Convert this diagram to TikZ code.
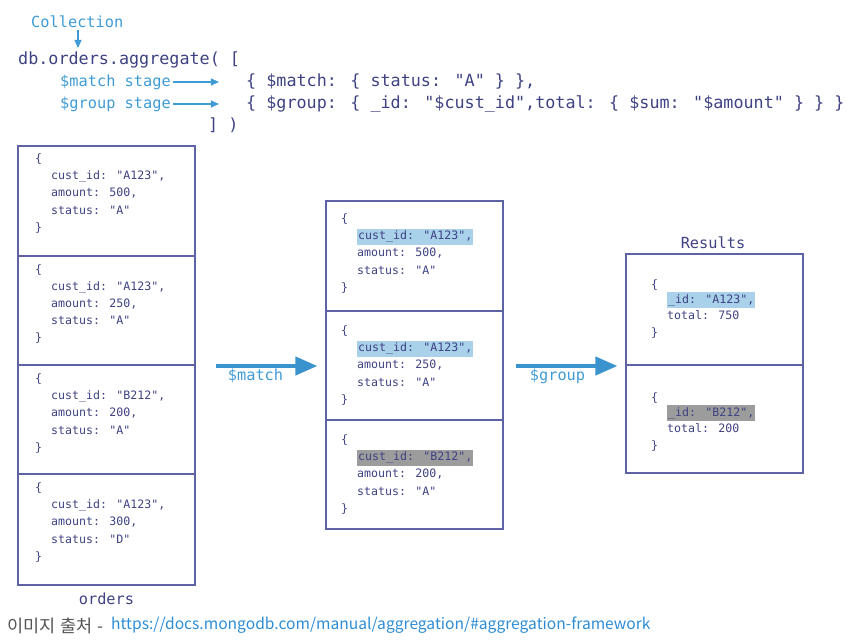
\documentclass[tikz,border=0pt]{standalone}
\usepackage{fontspec}
\usetikzlibrary{arrows.meta}
\newfontfamily\monofam{DejaVu Sans Mono}
\newfontfamily\krfam{Noto Sans CJK KR}

\definecolor{navy}{HTML}{3E4282}
\definecolor{framec}{HTML}{5F63A6}
\definecolor{lblue}{HTML}{3F9BD5}
\definecolor{arrowc}{HTML}{3A93CC}
\definecolor{hlblue}{HTML}{A9D1EA}
\definecolor{hlgray}{HTML}{9C9C9C}
\definecolor{footgray}{HTML}{555555}
\definecolor{urlblue}{HTML}{2C8DD6}

% one stored document: opening brace, three fields, closing brace
\newcommand{\orderdoc}[7]{%
  \node[doctext] (#1-open) at (#2,#3) {\{};
  \node[doctext,#7] (#1-id) at (#2+16,#3+17) {cust\_id: "#4",};
  \node[doctext] (#1-amt) at (#2+16,#3+34) {amount: #5,};
  \node[doctext] (#1-st) at (#2+16,#3+51.5) {status: "#6"};
  \node[doctext] (#1-close) at (#2,#3+68.5) {\}};
}
% one grouped result document
\newcommand{\resultdoc}[6]{%
  \node[doctext] (#1-open) at (#2,#3) {\{};
  \node[doctext,#6] (#1-id) at (#2+16,#3+15) {\_id: "#4",};
  \node[doctext] (#1-tot) at (#2+16,#3+31) {total: #5};
  \node[doctext] (#1-close) at (#2,#3+48) {\}};
}

\begin{document}
\begin{tikzpicture}[x=1pt,y=-1pt,
  code/.style={font=\monofam\fontsize{16.75}{20}\selectfont, text=navy, anchor=west, inner sep=0pt},
  note/.style={font=\monofam\fontsize{15.3}{18}\selectfont, text=lblue, inner sep=0pt},
  doctext/.style={font=\monofam\fontsize{11.6}{14}\selectfont, text=navy, anchor=west,
    inner sep=0pt, text height=8.5pt, text depth=2.5pt},
  hlb/.style={fill=hlblue, inner xsep=1pt, minimum height=16pt},
  hlg/.style={fill=hlgray, inner xsep=1pt, minimum height=16pt},
  frame/.style={draw=framec, line width=1.1pt, inner sep=0pt},
  smallarrow/.style={draw=lblue, line width=1.1pt, -{Triangle[length=8pt,width=7pt]}},
  bigarrow/.style={draw=arrowc, line width=4pt, -{Triangle[length=22pt,width=18pt]}},
  heading/.style={font=\monofam\fontsize{15.3}{18}\selectfont, text=navy, inner sep=0pt},
  footer/.style={anchor=west, inner sep=0pt, font=\krfam\fontsize{15.6}{18}\selectfont}
]
\useasboundingbox (0,0) rectangle (864,644);

% --- the aggregate call ---
\node[note, anchor=west] (coll) at (31,22) {Collection};
\node[code] (call) at (18,60) {db.orders.aggregate( [};
\coordinate (callin) at (78,48);
\draw[smallarrow] (coll.south -| callin) ++(0,2) -- (callin);

\node[note, anchor=west] (mlabel) at (60,82) {\$match stage};
\node[note, anchor=west] (glabel) at (60,104) {\$group stage};
\node[code] (mstage) at (246,82) {\{ \$match: \{ status: "A" \} \},};
\node[code] (gstage) at (246,104) {\{ \$group: \{ \_id: "\$cust\_id",total: \{ \$sum: "\$amount" \} \} \}};
\node[code] (close) at (208,125) {] )};
\draw[smallarrow] ([xshift=2pt]mlabel.east) -- ++(46,0) coordinate (mtip);
\draw[smallarrow] ([xshift=2pt]glabel.east) -- ++(46,0) coordinate (gtip);

% --- orders collection ---
\node[frame, minimum width=177pt, minimum height=439pt] (orders) at (106.5,365.5) {};
\foreach \yy in {256,365,474}
  \draw[framec, line width=1.1pt] (orders.west |- 0,\yy) -- (orders.east |- 0,\yy);
\orderdoc{o1}{35}{160}{A123}{500}{A}{}
\orderdoc{o2}{35}{270}{A123}{250}{A}{}
\orderdoc{o3}{35}{379.5}{B212}{200}{A}{}
\orderdoc{o4}{35}{488.5}{A123}{300}{D}{}
\node[heading] (ordersname) at (106.5,599) {orders};

% --- after $match ---
\node[frame, minimum width=177pt, minimum height=328pt] (matched) at (414.5,365) {};
\foreach \yy in {311,420}
  \draw[framec, line width=1.1pt] (matched.west |- 0,\yy) -- (matched.east |- 0,\yy);
\orderdoc{m1}{341}{220}{A123}{500}{A}{hlb}
\orderdoc{m2}{341}{331.5}{A123}{250}{A}{hlb}
\orderdoc{m3}{341}{440.5}{B212}{200}{A}{hlg}

% --- after $group ---
\node[heading] (resname) at (713,243) {Results};
\node[frame, minimum width=177pt, minimum height=219pt] (results) at (714.5,363.5) {};
\draw[framec, line width=1.1pt] (results.west |- 0,365) -- (results.east |- 0,365);
\resultdoc{r1}{651}{285}{A123}{750}{hlb}
\resultdoc{r2}{651}{398}{B212}{200}{hlg}

% --- stage arrows ---
\draw[bigarrow, shorten <=20pt, shorten >=8pt] (orders.east |- 0,366) -- (matched.west |- 0,366);
\node[note] (matchlbl) at (255.5,376) {\$match};
\draw[bigarrow, shorten <=12pt, shorten >=8pt] (matched.east |- 0,366) -- (results.west |- 0,366);
\node[note] (grouplbl) at (557.5,376) {\$group};

% --- source line ---
\node[footer, text=footgray, font=\krfam\fontsize{17.5}{20}\selectfont] (source) at (7,625.5)
  {이미지\hspace{5pt}출처\hspace{5pt}-};
\node[footer, text=urlblue] (url) at (111,625.5)
  {https://docs.mongodb.com/manual/aggregation/\#aggregation-framework};
\end{tikzpicture}
\end{document}
